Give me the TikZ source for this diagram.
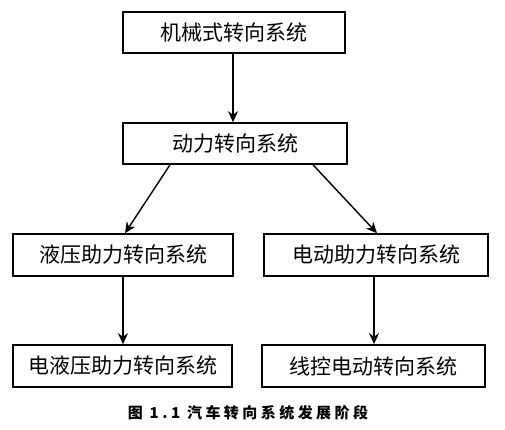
\documentclass[tikz,border=0pt]{standalone}
\usepackage{fontspec}
\newfontfamily\cjk{Noto Sans CJK SC}
\usepackage{tikz}
\usetikzlibrary{arrows.meta}

\tikzset{
  sysbox/.style={draw,line width=1.6pt,inner sep=0pt,
    font=\cjk\fontsize{21}{24}\selectfont},
  flow/.style={line width=1.4pt,-{Stealth[length=11pt,width=10pt]}}
}

\begin{document}
\begin{tikzpicture}[x=1pt,y=-1pt]
\useasboundingbox (0,0) rectangle (505,430);
% stages
\node[sysbox,minimum width=222pt,minimum height=41pt] (mech) at (234,32.5) {机械式转向系统};
\node[sysbox,minimum width=224pt,minimum height=41pt] (power) at (235,143.5) {动力转向系统};
\node[sysbox,minimum width=220pt,minimum height=42pt] (hyd) at (123,255) {液压助力转向系统};
\node[sysbox,minimum width=224pt,minimum height=42pt] (elec) at (376,255) {电动助力转向系统};
\node[sysbox,minimum width=219pt,minimum height=42pt] (ehyd) at (122.5,366) {电液压助力转向系统};
\node[sysbox,minimum width=223pt,minimum height=42pt] (wire) at (373.5,366) {线控电动转向系统};
% arrows
\draw[flow] ([xshift=-1pt]mech.south) -- ([xshift=-1pt]mech.south |- power.north);
\draw[flow] ([xshift=-65pt]power.south) -- ([xshift=2pt]hyd.north);
\draw[flow] ([xshift=78pt]power.south) -- ([xshift=1pt]elec.north);
\draw[flow] (hyd.south) -- (hyd.south |- ehyd.north);
\draw[flow] ([xshift=-2pt]elec.south) -- ([xshift=-2pt]elec.south |- wire.north);
% caption
\node[font=\cjk\bfseries\fontsize{15}{18}\selectfont] (cap) at (248,413)
  {\addfontfeature{LetterSpace=23}图 1.1 汽车转向系统发展阶段};
\end{tikzpicture}
\end{document}
